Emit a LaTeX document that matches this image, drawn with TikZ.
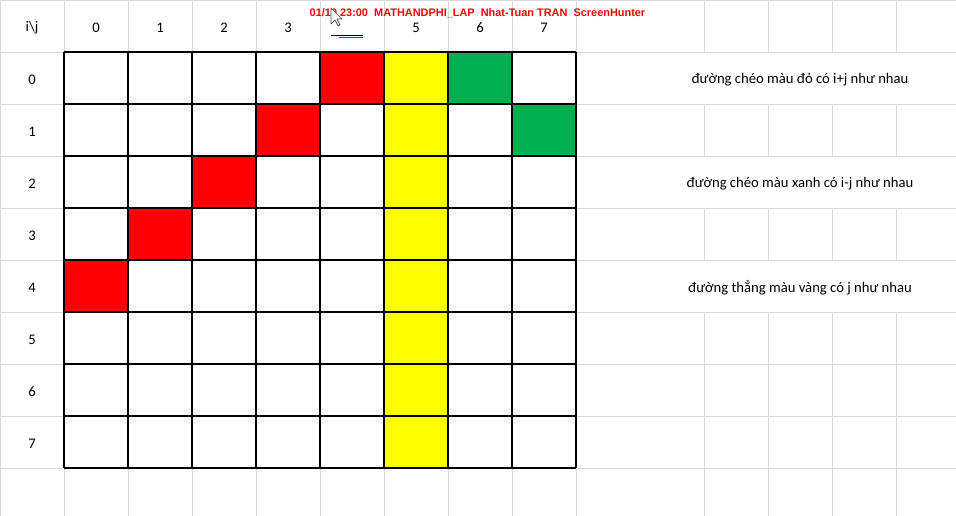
\documentclass[tikz,border=0pt]{standalone}
\usepackage{fontspec}
\setmainfont{Carlito}
\newfontfamily\stampfont{Liberation Sans}
\usetikzlibrary{positioning}
\definecolor{SheetGrid}{HTML}{D9D9D9}
\definecolor{CellRed}{HTML}{FF0000}
\definecolor{CellYellow}{HTML}{FFFF00}
\definecolor{CellGreen}{HTML}{00B050}

\begin{document}
\begin{tikzpicture}[x=0.75pt,y=-0.75pt,
    gridline/.style={SheetGrid,line width=0.75pt},
    border/.style={black,line width=0.8pt},
    label/.style={font=\fontsize{11}{13}\selectfont,inner sep=0pt}]
  \useasboundingbox (0,0) rectangle (956,516);
  % sheet gridlines (rows 0, 2 and 4 are merged right of the table)
  \foreach \x in {0.5,64.5,...,640} \draw[gridline] (\x,0) -- (\x,516);
  \foreach \x in {704.5,768.5,...,960}
    \foreach \a/\b in {0/52,104/156,208/260,312/516}
      \draw[gridline] (\x,\a) -- (\x,\b);
  \foreach \y in {0.5,52.5,...,520} \draw[gridline] (0,\y) -- (956,\y);
  % coloured cells
  \fill[CellYellow] (384,52) rectangle (448,468);
  \foreach \i in {0,...,4}
    \fill[CellRed] ({64*(5-\i)},{52*(\i+1)}) rectangle +(64,52);
  \fill[CellGreen] (448,52) rectangle +(64,52);
  \fill[CellGreen] (512,104) rectangle +(64,52);
  % table borders
  \foreach \x in {64,128,...,576} \draw[border] (\x,52) -- (\x,468);
  \foreach \y in {52,104,...,468} \draw[border] (64,\y) -- (576,\y);
  % headers
  \node[label] (hdr) at (32,28) {i\textbackslash j};
  \foreach \j in {0,1,2,3,5,6,7}
    \node[label] (col\j) at ({64*\j+96},28) {\j};
  \foreach \i in {0,...,7}
    \node[label] (row\i) at (32,{52*\i+80}) {\i};
  \draw[black,line width=0.75pt] (331,36) -- (363,36);
  \draw[CellRed,line width=0.6pt] (339,37) -- (363,37);
  % merged note cells
  \node[label] (noteRed) at (800,80) {đường chéo màu đỏ có i+j như nhau};
  \node[label] (noteGreen) at (800,184) {đường chéo màu xanh có i-j như nhau};
  \node[label] (noteYellow) at (800,288) {đường thẳng màu vàng có j như nhau};
  % screen stamp
  \node[inner sep=0pt,text=CellRed,font=\stampfont\bfseries\fontsize{8.2}{10}\selectfont]
    (stamp) at (477.5,13) {01/10 23:00\ \ MATHANDPHI\_LAP\ \ Nhat-Tuan TRAN\ \ ScreenHunter};
  \draw[fill=white,draw=black!70,line width=0.5pt,line join=round]
    (331,8) -- (331,24) -- (335,20) -- (338,26) -- (340,25) -- (337,19) -- (342,19) -- cycle;
\end{tikzpicture}
\end{document}
